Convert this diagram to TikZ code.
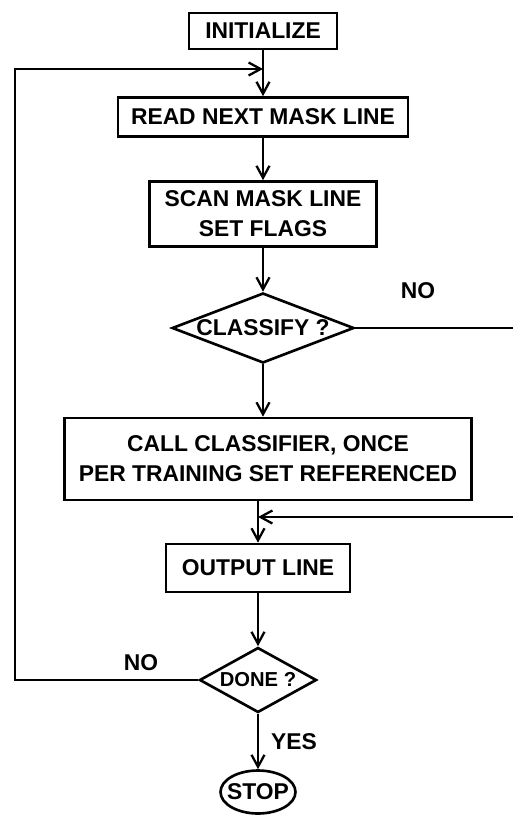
\documentclass[tikz,border=0pt]{standalone}
\usepackage{fontspec}
\setmainfont{Liberation Sans}
\usetikzlibrary{shapes.geometric,arrows.meta}
\newcommand{\flowfont}{\fontsize{13}{17}\selectfont\bfseries}
\tikzset{
  box/.style={draw, line width=1.5pt, font=\flowfont, align=center, inner sep=0pt},
  decision/.style={diamond, draw, line width=1.5pt, font=\flowfont, inner sep=0pt},
  term/.style={ellipse, draw, line width=1.5pt, font=\flowfont, inner xsep=-2.5pt, inner ysep=0pt},
  flow/.style={line width=1.5pt, -{Straight Barb[length=2.4mm,width=2.6mm,line width=1.3pt]}},
  lbl/.style={font=\flowfont}
}
\begin{document}
\begin{tikzpicture}[x=0.02cm,y=-0.02cm]
                \useasboundingbox (0,0) rectangle (512,815);
                \node [box, minimum width=2.96cm, minimum height=0.72cm] (init) at (263,31) {INITIALIZE};
                \node [box, minimum width=5.8cm, minimum height=0.78cm] (read) at (263,117) {READ NEXT MASK LINE};
                \node [box, minimum width=4.54cm, minimum height=1.3cm] (scan) at (263,214) {SCAN MASK LINE\\SET FLAGS};
                \node [decision, minimum width=3.64cm, minimum height=1.4cm, shape aspect=2.6] (classify) at (263,328) {CLASSIFY ?};
                \node [box, minimum width=8.14cm, minimum height=1.64cm] (call) at (268,459) {CALL CLASSIFIER, ONCE\\PER TRAINING SET REFERENCED};
                \node [box, minimum width=3.68cm, minimum height=0.96cm] (output) at (258,568) {OUTPUT LINE};
                \node [decision, minimum width=2.34cm, minimum height=1.3cm, shape aspect=1.8, font=\fontsize{11.5}{14}\selectfont\bfseries] (done) at (258,680) {DONE ?};
                \node [term, minimum width=1.5cm, minimum height=0.86cm] (stop) at (258,792) {STOP};
                \node [lbl] (noskip) at (418,291) {NO};
                \node [lbl] (noloop) at (141,663) {NO};
                \node [lbl] (yes) at (294,742) {YES};
                \coordinate (backin) at (263,69);
                \coordinate (skipin) at (258,517);
                \coordinate (leftside) at (15,680);
                \coordinate (rightside) at (518,328);
                \draw [flow] (init.south) -- (init.south |- read.north);
                \draw [flow] (read.south) -- (read.south |- scan.north);
                \draw [flow] (scan.south) -- (classify.north);
                \draw [flow] (classify.south) -- (classify.south |- call.north);
                \draw [flow] (output.north |- call.south) -- (output.north);
                \draw [flow] (output) -- (done);
                \draw [flow] (done) -- (stop);
                \draw [flow] (done.west) -- (leftside) |- (backin);
                \draw [flow] (classify.east) -- (rightside) |- (skipin);
            \end{tikzpicture}
\end{document}
